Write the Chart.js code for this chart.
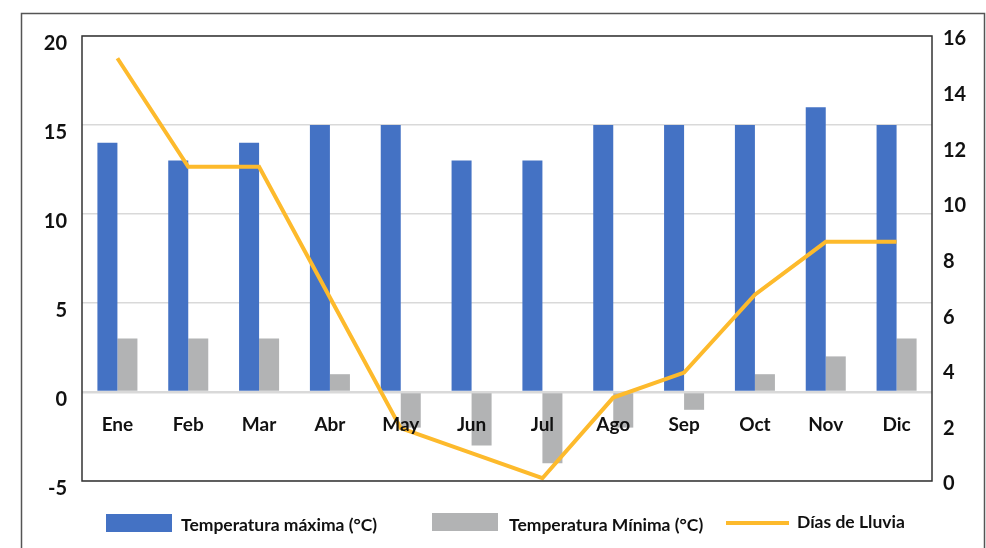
<!DOCTYPE html>
<html>
<head>
<meta charset="utf-8">
<script src="https://cdn.jsdelivr.net/npm/chart.js@4/dist/chart.umd.min.js"></script>
<style>
  html, body { margin: 0; padding: 0; background: #fff; }
  #wrap { position: relative; width: 986px; height: 548px; overflow: hidden; }
  #grafico { position: absolute; left: 0; top: 0; }
  .leyenda { position: absolute; font-family: Lato, 'Open Sans', sans-serif; font-weight: bold; font-size: 17.5px; color: #111; white-space: nowrap; }
  .caja { position: absolute; }
</style>
</head>
<body>
<div id="wrap">
  <canvas id="grafico" width="986" height="548"></canvas>
  <div class="caja" style="left:106px;top:514px;width:66px;height:18px;background:#4472C4"></div>
  <div class="leyenda" style="left:181px;top:514px">Temperatura máxima (°C)</div>
  <div class="caja" style="left:432px;top:513px;width:66px;height:18px;background:#B2B3B4"></div>
  <div class="leyenda" style="left:509px;top:514px">Temperatura Mínima (°C)</div>
  <div class="caja" style="left:726px;top:521px;width:63px;height:4px;background:#FDBA2C"></div>
  <div class="leyenda" style="left:797px;top:511px">Días de Lluvia</div>
</div>
<script>
// datos
const meses = ['Ene', 'Feb', 'Mar', 'Abr', 'May', 'Jun', 'Jul', 'Ago', 'Sep', 'Oct', 'Nov', 'Dic'];
const tempMaxima = [14, 13, 14, 15, 15, 13, 13, 15, 15, 15, 16, 15];
const tempMinima = [3, 3, 3, 1, -2, -3, -4, -2, -1, 1, 2, 3];
const diasLluvia = [15.2, 11.3, 11.3, 6.6, 1.9, 1.0, 0.1, 3.0, 3.9, 6.7, 8.6, 8.6];

const fuente = "Lato, 'Open Sans', sans-serif";

// marco exterior y borde del área de trazado
const marcos = {
  id: 'marcos',
  beforeDraw(chart) {
    const ctx = chart.ctx;
    ctx.save();
    ctx.strokeStyle = '#555';
    ctx.lineWidth = 1.5;
    ctx.strokeRect(21.5, 13.5, 963, 600);
    ctx.restore();
  },
  afterDatasetsDraw(chart) {
    const { ctx, chartArea: a } = chart;
    ctx.save();
    ctx.strokeStyle = '#333';
    ctx.lineWidth = 1.5;
    ctx.strokeRect(a.left, a.top, a.right - a.left, a.bottom - a.top);
    ctx.restore();
  }
};

// etiquetas de meses junto a la línea del cero
const etiquetasMeses = {
  id: 'etiquetasMeses',
  afterDraw(chart) {
    const ctx = chart.ctx;
    const x = chart.scales.x;
    const y0 = chart.scales.y.getPixelForValue(0);
    ctx.save();
    ctx.font = 'bold 19px ' + fuente;
    ctx.fillStyle = '#111';
    ctx.textAlign = 'center';
    ctx.textBaseline = 'middle';
    meses.forEach((m, i) => ctx.fillText(m, x.getPixelForValue(i), y0 + 33));
    ctx.restore();
  }
};

new Chart(document.getElementById('grafico'), {
  data: {
    labels: meses,
    datasets: [
      {
        type: 'line',
        label: 'Días de Lluvia',
        data: diasLluvia,
        yAxisID: 'y1',
        borderColor: '#FDBA2C',
        borderWidth: 4,
        pointRadius: 0,
        tension: 0,
        order: 0
      },
      {
        type: 'bar',
        label: 'Temperatura máxima (°C)',
        data: tempMaxima,
        yAxisID: 'y',
        backgroundColor: '#4472C4',
        categoryPercentage: 0.565,
        barPercentage: 1,
        order: 1
      },
      {
        type: 'bar',
        label: 'Temperatura Mínima (°C)',
        data: tempMinima,
        yAxisID: 'y',
        backgroundColor: '#B2B3B4',
        categoryPercentage: 0.565,
        barPercentage: 1,
        order: 1
      }
    ]
  },
  options: {
    responsive: false,
    animation: false,
    layout: { padding: { left: 0, top: 36, right: 0, bottom: 67 } },
    plugins: { legend: { display: false }, tooltip: { enabled: false } },
    scales: {
      x: { display: false },
      y: {
        position: 'left',
        min: -5, max: 20,
        ticks: { stepSize: 5, padding: 15, labelOffset: 8, color: '#111', font: { family: fuente, size: 20, weight: 'bold' } },
        grid: {
          drawTicks: false,
          color: '#D9D9D9',
          lineWidth: ctx => (ctx.tick && ctx.tick.value === 0 ? 2.5 : 1.5)
        },
        border: { display: false },
        afterFit: s => { s.width = 82; }
      },
      y1: {
        position: 'right',
        min: 0, max: 16,
        ticks: { stepSize: 2, padding: 11, labelOffset: 3, color: '#111', font: { family: fuente, size: 20, weight: 'bold' } },
        grid: { display: false, drawTicks: false },
        border: { display: false },
        afterFit: s => { s.width = 54; }
      }
    }
  },
  plugins: [marcos, etiquetasMeses]
});
</script>
</body>
</html>
